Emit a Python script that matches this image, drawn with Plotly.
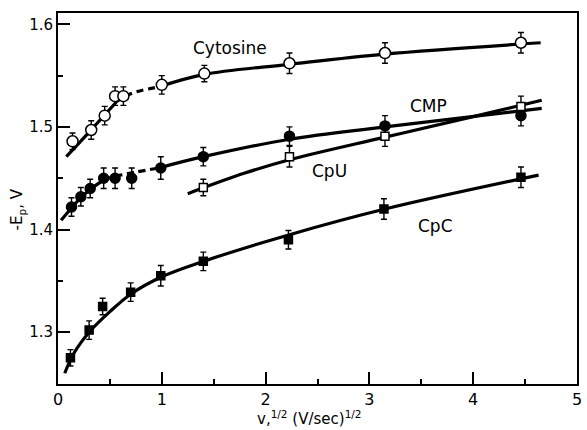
import plotly.graph_objects as go

# ---- data points ----
x_cyt = [0.14, 0.32, 0.45, 0.55, 0.63, 1.0, 1.41, 2.23, 3.15, 4.46]
y_cyt = [1.486, 1.497, 1.511, 1.530, 1.530, 1.541, 1.552, 1.562, 1.572, 1.582]
e_cyt = [0.008, 0.009, 0.009, 0.009, 0.009, 0.009, 0.008, 0.010, 0.010, 0.010]

x_cmp = [0.13, 0.22, 0.31, 0.44, 0.55, 0.71, 0.99, 1.40, 2.23, 3.15, 4.46]
y_cmp = [1.422, 1.432, 1.440, 1.450, 1.450, 1.450, 1.460, 1.471, 1.491, 1.501, 1.511]
e_cmp = [0.009, 0.009, 0.009, 0.010, 0.010, 0.010, 0.011, 0.009, 0.009, 0.010, 0.010]

x_cpu = [1.40, 2.23, 3.15, 4.46]
y_cpu = [1.441, 1.471, 1.491, 1.520]
e_cpu = [0.008, 0.010, 0.010, 0.010]

x_cpc = [0.12, 0.30, 0.43, 0.70, 0.99, 1.40, 2.22, 3.14, 4.46]
y_cpc = [1.275, 1.302, 1.325, 1.339, 1.355, 1.369, 1.390, 1.420, 1.451]
e_cpc = [0.008, 0.009, 0.008, 0.009, 0.010, 0.009, 0.009, 0.010, 0.010]

# ---- hand-drawn fit curves ----
cyt_fit1_x = [0.08, 0.30, 0.56]
cyt_fit1_y = [1.471, 1.495, 1.524]
cyt_dash_x = [0.55, 0.72, 0.97]
cyt_dash_y = [1.524, 1.533, 1.539]
cyt_fit2_x = [0.97, 1.40, 2.23, 3.15, 4.65]
cyt_fit2_y = [1.539, 1.551, 1.561, 1.571, 1.582]

cmp_fit1_x = [0.03, 0.13, 0.22, 0.31, 0.44, 0.55]
cmp_fit1_y = [1.409, 1.421, 1.431, 1.439, 1.448, 1.452]
cmp_dash_x = [0.55, 0.75, 0.97]
cmp_dash_y = [1.452, 1.456, 1.460]
cmp_fit2_x = [0.97, 1.40, 2.23, 3.15, 4.66]
cmp_fit2_y = [1.460, 1.471, 1.488, 1.500, 1.518]

cpu_fit_x = [1.25, 1.80, 2.23, 3.15, 4.00, 4.66]
cpu_fit_y = [1.435, 1.455, 1.468, 1.490, 1.510, 1.526]

cpc_fit_x = [0.065, 0.15, 0.30, 0.50, 0.70, 1.00, 1.40, 2.23, 3.15, 4.63]
cpc_fit_y = [1.260, 1.279, 1.300, 1.320, 1.337, 1.354, 1.369, 1.395, 1.420, 1.453]

labels = ["Cytosine", "CMP", "CpU", "CpC"]
label_x = [1.66, 3.57, 2.62, 3.64]
label_y = [1.577, 1.520, 1.457, 1.403]

x_ticks = [0, 1, 2, 3, 4, 5]
y_ticks = [1.3, 1.4, 1.5, 1.6]

fig = go.Figure()

def curve(x, y, dash="solid"):
    fig.add_trace(go.Scatter(x=x, y=y, mode="lines",
                             line=dict(color="black", width=3.2, shape="spline",
                                       smoothing=1.0, dash=dash),
                             hoverinfo="skip", showlegend=False))

curve(cyt_fit1_x, cyt_fit1_y)
curve(cyt_dash_x, cyt_dash_y, "7px,5px")
curve(cyt_fit2_x, cyt_fit2_y)
curve(cmp_fit1_x, cmp_fit1_y)
curve(cmp_dash_x, cmp_dash_y, "7px,5px")
curve(cmp_fit2_x, cmp_fit2_y)
curve(cpu_fit_x, cpu_fit_y)
curve(cpc_fit_x, cpc_fit_y)

def pts(x, y, e, symbol, fill, size):
    fig.add_trace(go.Scatter(
        x=x, y=y, mode="markers",
        marker=dict(symbol=symbol, size=size, color=fill,
                    line=dict(color="black", width=1.5)),
        error_y=dict(type="data", array=e, visible=True,
                     color="black", thickness=1.4, width=3),
        showlegend=False))

pts(x_cyt, y_cyt, e_cyt, "circle", "white", 11)
pts(x_cmp, y_cmp, e_cmp, "circle", "black", 10)
pts(x_cpu, y_cpu, e_cpu, "square", "white", 8)
pts(x_cpc, y_cpc, e_cpc, "square", "black", 8)

for t, lx, ly in zip(labels, label_x, label_y):
    fig.add_annotation(x=lx, y=ly, text=t, showarrow=False,
                       font=dict(family="DejaVu Sans", size=17, color="black"))

fig.add_annotation(xref="paper", yref="paper", x=(312 - 58) / 524, y=(384 - 418) / 371,
                   xanchor="center", yanchor="middle",
                   text="v,<sup>1/2</sup> (V/sec)<sup>1/2</sup>", showarrow=False,
                   font=dict(family="DejaVu Sans", size=15, color="black"))
fig.add_annotation(xref="paper", yref="paper", x=(17 - 58) / 524, y=(384 - 209) / 371,
                   xanchor="center", yanchor="middle",
                   text="-E<sub>p</sub>, V", showarrow=False, textangle=-90,
                   font=dict(family="DejaVu Sans", size=15, color="black"))

fig.update_xaxes(range=[0, 5], tickvals=x_ticks, ticktext=[str(v) for v in x_ticks],
                 ticks="inside", ticklen=12, tickwidth=1.5, tickcolor="black",
                 showline=True, linewidth=2, linecolor="black", mirror=True,
                 showgrid=False, zeroline=False,
                 tickfont=dict(family="DejaVu Sans", size=16, color="black"),
                 minor=dict(tick0=0, dtick=0.5, ticks="inside", ticklen=5,
                            tickwidth=1.5, tickcolor="black", showgrid=False))
fig.update_yaxes(range=[1.2495, 1.611], tickvals=y_ticks, ticktext=["1.3", "1.4", "1.5", "1.6"],
                 ticks="inside", ticklen=12, tickwidth=1.5, tickcolor="black",
                 showline=True, linewidth=2, linecolor="black", mirror=True,
                 showgrid=False, zeroline=False,
                 tickfont=dict(family="DejaVu Sans", size=15, color="black"),
                 minor=dict(tick0=1.3, dtick=0.05, ticks="inside", ticklen=5,
                            tickwidth=1.5, tickcolor="black", showgrid=False))

fig.update_layout(width=587, height=430, margin=dict(l=58, r=5, t=13, b=46),
                  paper_bgcolor="white", plot_bgcolor="white", showlegend=False)

fig.write_html("out.html")
